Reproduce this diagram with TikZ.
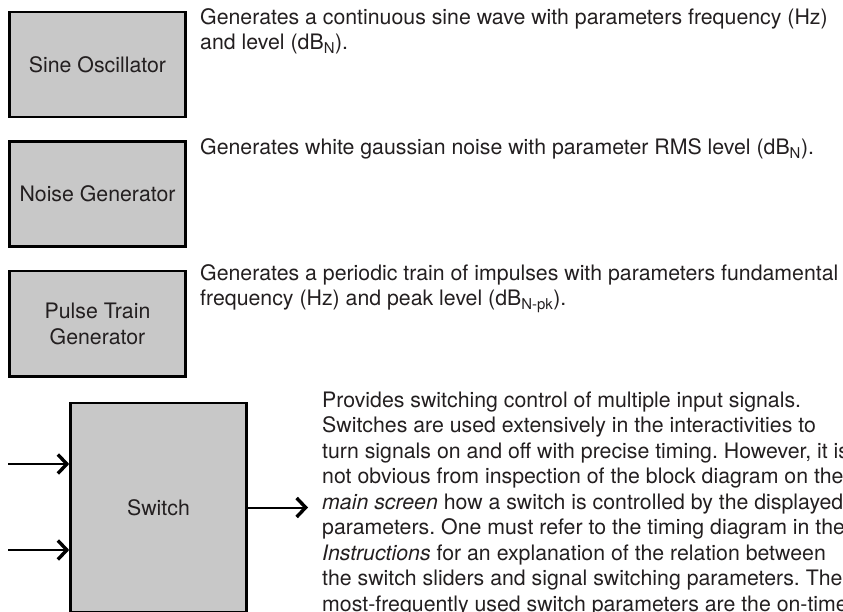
\documentclass[tikz,border=0pt]{standalone}
\usepackage{fontspec}
\setmainfont{TeX Gyre Heros}
\usetikzlibrary{arrows.meta,positioning}

\definecolor{boxgray}{RGB}{200,200,200}
\definecolor{ink}{RGB}{35,31,32}
\newcommand\lbl{\fontsize{21.3}{25.5}\selectfont\frenchspacing}

\tikzset{
  block/.style={draw=black, line width=2.6pt, fill=boxgray, text=ink,
    minimum width=176pt, minimum height=105pt, inner sep=0pt, align=center, font=\lbl},
  desc/.style={anchor=north west, inner sep=0pt, align=left, text=ink, font=\lbl,
    execute at begin node=\strut},
  sig/.style={line width=2pt, -{Straight Barb[length=9pt, width=19pt, line width=3.4pt]}}
}

\begin{document}
\begin{tikzpicture}[x=1pt, y=-1pt]
  \useasboundingbox (0,0) rectangle (843,612);
  \clip (0,0) rectangle (843,612);

  % the three sources
  \node[block] (sine) at (97.5,64.5) {Sine Oscillator};
  \node[block, below=22pt of sine] (noise) {Noise Generator};
  \node[block, below=22pt of noise] (pulse) {Pulse Train\\Generator};

  \node[desc] (sinetxt) at (200,8.3) {Generates a continuous sine wave with parameters frequency (Hz)\\
    and level (dB\textsubscript{N}).};
  \node[desc] (noisetxt) at (200,136.3) {Generates white gaussian noise with parameter RMS level (dB\textsubscript{N}).};
  \node[desc] (pulsetxt) at (200,264.3) {Generates a periodic train of impulses with parameters fundamental\\
    frequency (Hz) and peak level (dB\textsubscript{N-pk}).};

  % switch with its inputs and output
  \node[block, minimum height=209pt] (switch) at (158.5,507.5) {Switch};
  \coordinate (in1) at (8,464);
  \coordinate (in2) at (8,550);
  \coordinate (out) at (308,507.5);
  \draw[sig] (in1) -- (in1 -| switch.west);
  \draw[sig] (in2) -- (in2 -| switch.west);
  \draw[sig] (switch.east) -- (out);

  \node[desc] (switchtxt) at (322,391.5) {Provides switching control of multiple input signals.\\
    Switches are used extensively in the interactivities to\\
    turn signals on and off with precise timing. However, it is\\
    not obvious from inspection of the block diagram on the\\
    \textit{main screen} how a switch is controlled by the displayed\\
    parameters. One must refer to the timing diagram in the\\
    \textit{Instructions} for an explanation of the relation between\\
    the switch sliders and signal switching parameters. The\\
    most-frequently used switch parameters are the on-time};
\end{tikzpicture}
\end{document}
